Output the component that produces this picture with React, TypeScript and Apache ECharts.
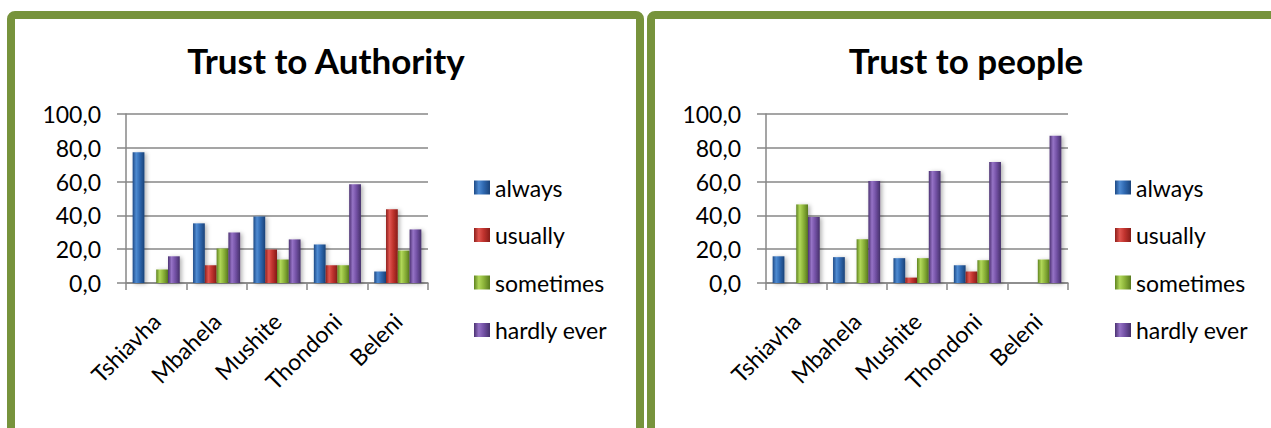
import React, { useEffect, useRef } from "react";
import * as echarts from "echarts";

const categories = ["Tshiavha", "Mbahela", "Mushite", "Thondoni", "Beleni"];
const seriesNames = ["always", "usually", "sometimes", "hardly ever"];

const authorityAlways = [77.4, 35.3, 39.4, 22.8, 6.8];
const authorityUsually = [0, 10.5, 19.8, 10.5, 43.7];
const authoritySometimes = [8.0, 20.4, 13.9, 10.5, 19.2];
const authorityHardlyEver = [15.8, 29.9, 25.8, 58.4, 31.7];

const peopleAlways = [15.8, 15.3, 14.7, 10.5, 0];
const peopleUsually = [0, 0, 3.2, 6.8, 0];
const peopleSometimes = [46.5, 25.9, 14.7, 13.5, 13.9];
const peopleHardlyEver = [39.0, 60.4, 66.3, 71.6, 87.1];

const yMin = 0;
const yMax = 100;
const yStep = 20;

const chartTitles = ["Trust to Authority", "Trust to people"];

// dark edge, highlight, body, dark edge
const palette = [
  ["#1d4a86", "#4f8bd2", "#2f68b0", "#1a4278"],
  ["#8e1f1b", "#e0554f", "#c0332e", "#861c18"],
  ["#5f8420", "#b2d85a", "#8db43a", "#587a1e"],
  ["#4b3172", "#9673c6", "#7452a6", "#45306a"],
];

const FONT = "Lato, 'Open Sans', sans-serif";

function barFill(c: string[]) {
  return new echarts.graphic.LinearGradient(0, 0, 1, 0, [
    { offset: 0, color: c[0] },
    { offset: 0.3, color: c[1] },
    { offset: 0.6, color: c[2] },
    { offset: 1, color: c[3] },
  ]);
}

const fmt = (v: number) => v.toFixed(1).replace(".", ",");

export default function App() {
  const ref = useRef<HTMLDivElement>(null);

  useEffect(() => {
    if (!ref.current) return;
    const chart = echarts.init(ref.current, undefined, { renderer: "svg" });

    const grids = [
      { left: 126, top: 114, width: 302, height: 169 },
      { left: 766, top: 114, width: 302, height: 169 },
    ];

    const xAxes = grids.map((_, i) => ({
      type: "category",
      gridIndex: i,
      data: categories,
      axisLine: { show: true, lineStyle: { color: "#878787", width: 1.5 } },
      axisTick: { show: true, length: 7, lineStyle: { color: "#878787", width: 1.5 } },
      axisLabel: {
        rotate: 45,
        interval: 0,
        margin: 34,
        color: "#000",
        fontFamily: FONT,
        fontSize: 23,
      },
    }));

    const yAxes = grids.map((_, i) => ({
      type: "value",
      gridIndex: i,
      min: yMin,
      max: yMax,
      interval: yStep,
      axisLine: { show: true, lineStyle: { color: "#878787", width: 1.5 } },
      axisTick: { show: true, length: 9, lineStyle: { color: "#878787", width: 1.5 } },
      splitLine: { show: true, lineStyle: { color: "#878787", width: 1.5 } },
      axisLabel: {
        margin: 25,
        color: "#000",
        fontFamily: FONT,
        fontSize: 23,
        formatter: (v: number) => fmt(v),
      },
    }));

    const groups = [
      [authorityAlways, authorityUsually, authoritySometimes, authorityHardlyEver],
      [peopleAlways, peopleUsually, peopleSometimes, peopleHardlyEver],
    ];

    const series: any[] = [];
    groups.forEach((g, gi) => {
      g.forEach((vals, si) => {
        series.push({
          type: "bar",
          name: seriesNames[si],
          xAxisIndex: gi,
          yAxisIndex: gi,
          data: vals,
          barGap: "0%",
          barCategoryGap: "22%",
          itemStyle: {
            color: barFill(palette[si]),
            shadowColor: "rgba(0,0,0,0.3)",
            shadowBlur: 4,
            shadowOffsetX: 2,
            shadowOffsetY: 1,
          },
        });
      });
    });

    const legendBase = {
      orient: "vertical",
      top: 171,
      itemWidth: 16,
      itemHeight: 14,
      itemGap: 24.5,
      icon: "rect",
      data: seriesNames,
      textStyle: { color: "#000", fontFamily: FONT, fontSize: 23 },
    };

    const panelColor = "#77933c";

    chart.setOption({
      animation: false,
      backgroundColor: "#fff",
      grid: grids,
      xAxis: xAxes,
      yAxis: yAxes,
      series,
      legend: [
        { ...legendBase, left: 469 },
        { ...legendBase, left: 1110 },
      ],
      graphic: [
        {
          type: "rect",
          shape: { x: 11, y: 15, width: 629, height: 520, r: 4 },
          style: { fill: "none", stroke: panelColor, lineWidth: 8 },
          silent: true,
        },
        {
          type: "rect",
          shape: { x: 651, y: 15, width: 700, height: 520, r: 4 },
          style: { fill: "none", stroke: panelColor, lineWidth: 8 },
          silent: true,
        },
        {
          type: "text",
          x: 326,
          y: 60,
          style: {
            text: chartTitles[0],
            font: `bold 35px ${FONT}`,
            fill: "#000",
            textAlign: "center",
            textVerticalAlign: "middle",
          },
        },
        {
          type: "text",
          x: 966,
          y: 60,
          style: {
            text: chartTitles[1],
            font: `bold 35px ${FONT}`,
            fill: "#000",
            textAlign: "center",
            textVerticalAlign: "middle",
          },
        },
      ],
    });

    return () => chart.dispose();
  }, []);

  return (
    <div
      ref={ref}
      style={{ position: "fixed", left: 0, top: 0, width: 1271, height: 428 }}
    />
  );
}
